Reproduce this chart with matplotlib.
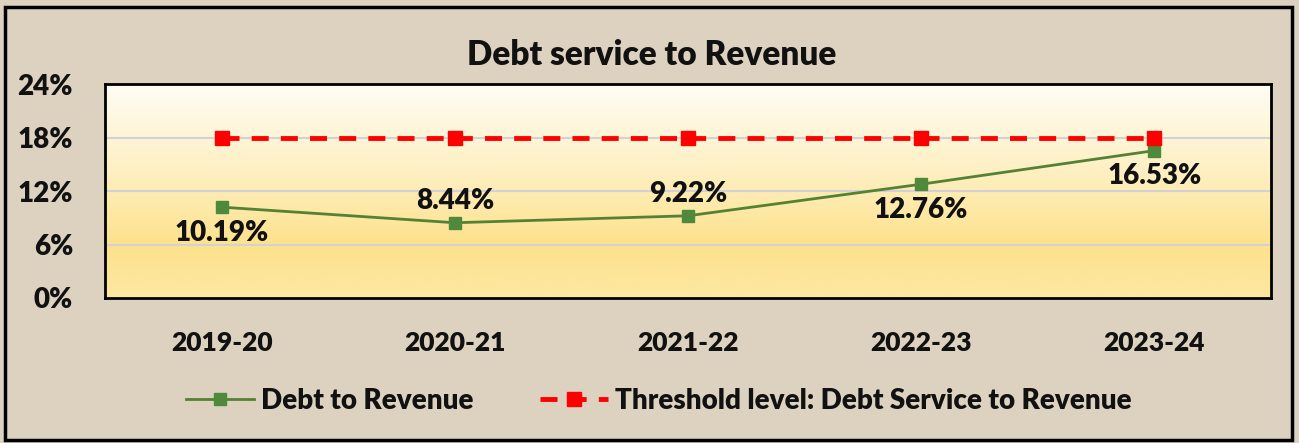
import matplotlib.pyplot as plt
import matplotlib.colors as mcolors
import numpy as np

years = ["2019-20", "2020-21", "2021-22", "2022-23", "2023-24"]
debt_to_revenue = [10.19, 8.44, 9.22, 12.76, 16.53]
threshold = [18, 18, 18, 18, 18]
label_pos = ["below", "above", "above", "below", "below"]
yticks = [0, 6, 12, 18, 24]

plt.rcParams['font.family'] = ['Lato', 'DejaVu Sans']
txt = '#111111'

W, H = 1299, 443
fig = plt.figure(figsize=(W / 100, H / 100), dpi=100)
fig.patch.set_facecolor('#dcd2bf')

# outer frame
fig.add_artist(plt.Rectangle((5 / W, 3 / H), 1287 / W, 433 / H, transform=fig.transFigure,
                             fill=False, edgecolor='black', linewidth=2.5))

ax = fig.add_axes([105 / W, 1 - 298 / H, 1166 / W, 214 / H])

# plot area gradient
grad = mcolors.LinearSegmentedColormap.from_list(
    'bg', [(0, '#fde8a2'), (0.25, '#fde28c'), (0.6, '#fef0c4'), (1.0, '#fffdf4')])
ax.imshow(np.linspace(0, 1, 256).reshape(-1, 1), cmap=grad, origin='lower',
          extent=[0, 1, 0, 1], transform=ax.transAxes, aspect='auto', zorder=0)

x = np.arange(len(years))
ax.set_xlim(-0.5, len(years) - 0.5)
ax.set_ylim(0, 24)

for y in yticks[1:-1]:
    ax.axhline(y, color='#d4d0d8', linewidth=1.5, zorder=1)

ax.plot(x, debt_to_revenue, color='#548235', linewidth=2, marker='s', markersize=9,
        markerfacecolor='#4f8a3c', markeredgecolor='#4f8a3c', zorder=3, label='Debt to Revenue')
ax.plot(x, threshold, color='#ff0000', linewidth=3.5, linestyle=(0, (3.5, 2.5)), marker='s',
        markersize=10, markerfacecolor='#ff0000', markeredgecolor='#ff0000', zorder=3,
        label='Threshold level: Debt Service to Revenue')

for xi, v, pos in zip(x, debt_to_revenue, label_pos):
    if pos == "above":
        ax.annotate(f"{v:.2f}%", (xi, v), xytext=(0, 6), textcoords='offset points',
                    ha='center', va='bottom', fontsize=20, fontweight='heavy', color=txt)
    else:
        ax.annotate(f"{v:.2f}%", (xi, v), xytext=(0, -9), textcoords='offset points',
                    ha='center', va='top', fontsize=20, fontweight='heavy', color=txt)

ax.set_xticks(x)
ax.set_xticklabels(years, fontsize=19, fontweight='heavy', color=txt)
ax.set_yticks(yticks)
ax.set_yticklabels([f"{t}%" for t in yticks], fontsize=20, fontweight='heavy', color=txt)
ax.tick_params(axis='x', length=0, pad=24)
ax.tick_params(axis='y', length=0, pad=23)
for s in ax.spines.values():
    s.set_linewidth(2)
    s.set_color('black')

fig.text(652 / W, 1 - 55 / H, "Debt service to Revenue", ha='center', va='center',
         fontsize=24, fontweight='heavy', color=txt)

leg = fig.legend(loc='center', bbox_to_anchor=(659 / W, 1 - 401 / H), ncol=2, frameon=False,
                 prop={'size': 20, 'weight': 'heavy'}, handlelength=2.45, columnspacing=2.4,
                 handletextpad=0.25)
for t in leg.get_texts():
    t.set_color(txt)

fig.savefig('out.png', dpi=100, facecolor=fig.get_facecolor())
